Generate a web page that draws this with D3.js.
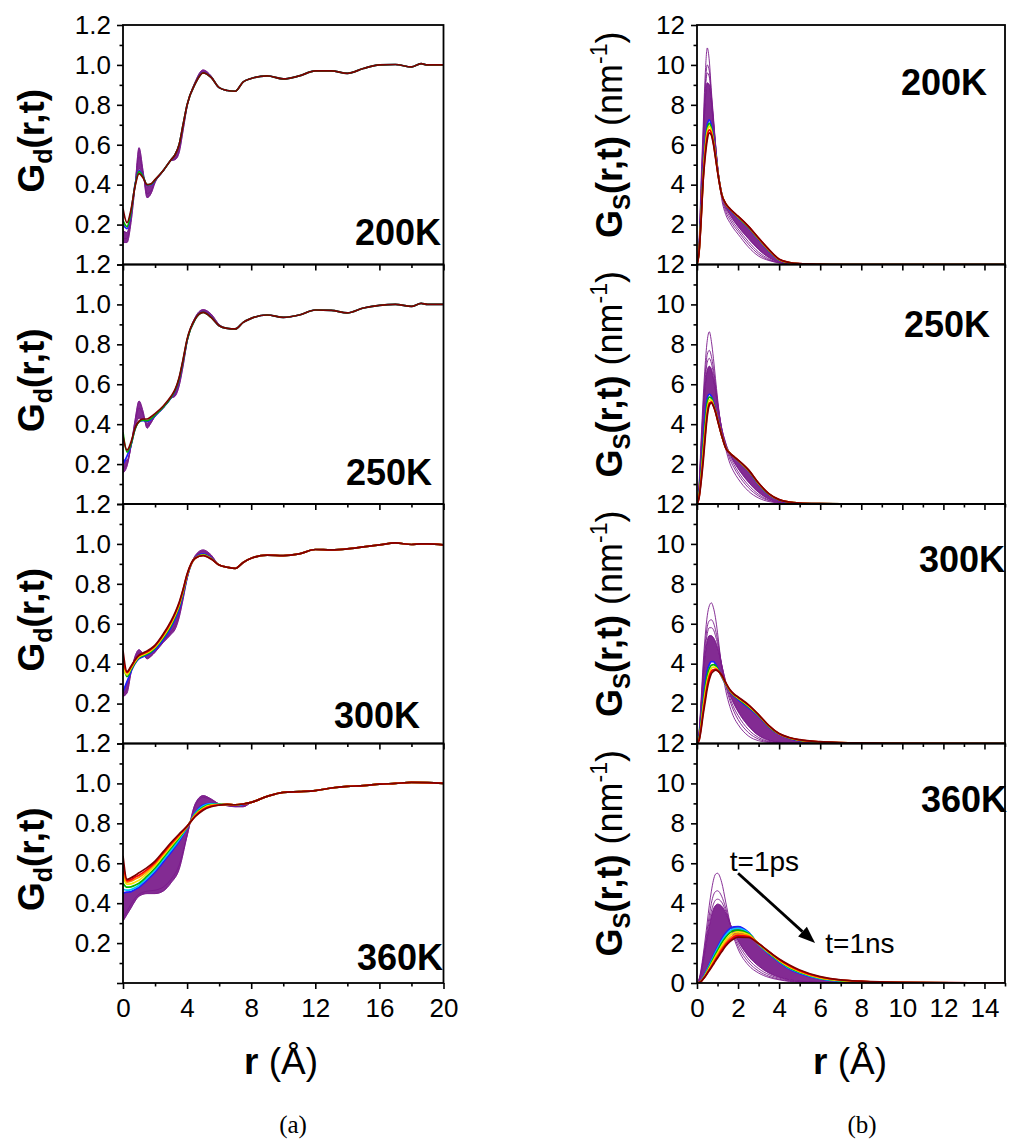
<!DOCTYPE html>
<html>
<head>
<meta charset="utf-8">
<script src="https://cdn.jsdelivr.net/npm/d3@7"></script>
<style>
  html, body { margin: 0; padding: 0; background: #fff; }
  svg { display: block; }
</style>
</head>
<body>
<div id="chart"></div>
<script>
// ---------------------------------------------------------------
// Distinct part Gd(r,t): radial grids (Å)
// ---------------------------------------------------------------
const gdHeadR    = [0, 0.25, 0.5, 0.75, 1.0, 1.25, 1.5, 1.75, 2.0, 2.5, 3.0, 3.25, 3.5, 3.75, 4.0, 4.5, 5.0, 5.5, 6.0];
const gdTailR    = [6.5, 7, 7.5, 8, 9, 10, 11, 12, 13, 14, 15, 16, 17, 18, 18.6, 19, 20];
const gd360HeadR = [0, 0.25, 0.5, 0.75, 1.0, 1.5, 2.0, 2.5, 3.0, 3.5, 4.0, 4.5, 5.0, 5.5, 6.0, 6.5, 7.0, 7.5, 8.0];
const gd360TailR = [9, 10, 11, 12, 13, 14, 15, 16, 17, 18, 19, 20];

// 200 K
const gd200_1ps   = [0.11, 0.11, 0.21, 0.39, 0.585, 0.47, 0.335, 0.355, 0.41, 0.465, 0.52, 0.525, 0.56, 0.67, 0.79, 0.915, 0.975, 0.945, 0.886];
const gd200_e2    = [0.13, 0.13, 0.23, 0.40, 0.54, 0.46, 0.355, 0.37, 0.415, 0.467, 0.52, 0.53, 0.57, 0.68, 0.795, 0.91, 0.97, 0.943, 0.886];
const gd200_edge  = [0.17, 0.16, 0.25, 0.40, 0.48, 0.445, 0.39, 0.395, 0.42, 0.47, 0.525, 0.545, 0.595, 0.70, 0.80, 0.905, 0.962, 0.94, 0.886];
const gd200_blue  = [0.20, 0.18, 0.26, 0.40, 0.47, 0.443, 0.398, 0.40, 0.422, 0.47, 0.525, 0.55, 0.60, 0.70, 0.80, 0.905, 0.961, 0.938, 0.886];
const gd200_green = [0.22, 0.19, 0.265, 0.395, 0.465, 0.44, 0.40, 0.403, 0.424, 0.47, 0.525, 0.55, 0.60, 0.70, 0.80, 0.905, 0.96, 0.937, 0.886];
const gd200_final = [0.28, 0.21, 0.275, 0.39, 0.455, 0.435, 0.40, 0.405, 0.425, 0.47, 0.525, 0.55, 0.60, 0.70, 0.80, 0.905, 0.96, 0.937, 0.886];
const gd200_tail  = [0.872, 0.868, 0.915, 0.932, 0.945, 0.93, 0.945, 0.97, 0.97, 0.958, 0.982, 1.0, 1.002, 0.99, 1.006, 1.0, 1.0];

// 250 K
const gd250_1ps   = [0.155, 0.19, 0.29, 0.42, 0.516, 0.465, 0.38, 0.406, 0.44, 0.48, 0.53, 0.54, 0.59, 0.69, 0.81, 0.935, 0.974, 0.952, 0.90];
const gd250_e2    = [0.18, 0.20, 0.29, 0.41, 0.48, 0.45, 0.39, 0.41, 0.44, 0.482, 0.532, 0.548, 0.60, 0.70, 0.815, 0.932, 0.968, 0.945, 0.896];
const gd250_edge  = [0.22, 0.22, 0.29, 0.385, 0.43, 0.425, 0.405, 0.418, 0.44, 0.48, 0.53, 0.56, 0.62, 0.71, 0.818, 0.928, 0.963, 0.938, 0.894];
const gd250_blue  = [0.20, 0.24, 0.295, 0.375, 0.412, 0.418, 0.414, 0.424, 0.442, 0.482, 0.532, 0.566, 0.625, 0.717, 0.82, 0.925, 0.961, 0.936, 0.893];
const gd250_green = [0.36, 0.26, 0.30, 0.375, 0.412, 0.42, 0.418, 0.428, 0.446, 0.485, 0.535, 0.57, 0.628, 0.72, 0.822, 0.925, 0.96, 0.935, 0.893];
const gd250_final = [0.34, 0.27, 0.31, 0.38, 0.415, 0.426, 0.426, 0.437, 0.453, 0.49, 0.54, 0.574, 0.633, 0.725, 0.826, 0.927, 0.96, 0.935, 0.893];
const gd250_tail  = [0.88, 0.877, 0.91, 0.93, 0.947, 0.935, 0.947, 0.972, 0.97, 0.958, 0.982, 0.995, 1.0, 0.99, 1.005, 1.0, 1.0];

// 300 K
const gd300_1ps    = [0.236, 0.253, 0.354, 0.437, 0.47, 0.45, 0.424, 0.437, 0.457, 0.505, 0.547, 0.572, 0.63, 0.723, 0.824, 0.941, 0.97, 0.945, 0.894];
const gd300_e2     = [0.25, 0.27, 0.36, 0.43, 0.455, 0.445, 0.43, 0.44, 0.46, 0.51, 0.56, 0.59, 0.645, 0.733, 0.829, 0.937, 0.962, 0.938, 0.894];
const gd300_blue   = [0.26, 0.31, 0.36, 0.40, 0.425, 0.435, 0.443, 0.454, 0.47, 0.518, 0.582, 0.622, 0.672, 0.748, 0.834, 0.93, 0.95, 0.93, 0.894];
const gd300_green  = [0.40, 0.335, 0.37, 0.405, 0.43, 0.44, 0.449, 0.46, 0.478, 0.528, 0.592, 0.634, 0.685, 0.758, 0.84, 0.929, 0.946, 0.927, 0.894];
const gd300_yellow = [0.38, 0.345, 0.377, 0.41, 0.434, 0.445, 0.454, 0.466, 0.483, 0.535, 0.60, 0.642, 0.693, 0.764, 0.843, 0.928, 0.944, 0.926, 0.894];
const gd300_red    = [0.42, 0.355, 0.383, 0.416, 0.44, 0.45, 0.459, 0.472, 0.489, 0.542, 0.608, 0.65, 0.70, 0.77, 0.846, 0.928, 0.942, 0.925, 0.894];
const gd300_final  = [0.465, 0.36, 0.387, 0.42, 0.443, 0.454, 0.463, 0.476, 0.493, 0.547, 0.614, 0.656, 0.706, 0.773, 0.849, 0.928, 0.941, 0.924, 0.894];
const gd300_tail   = [0.883, 0.877, 0.907, 0.928, 0.944, 0.941, 0.95, 0.972, 0.97, 0.975, 0.985, 0.995, 1.005, 0.997, 1.0, 1.0, 0.995];

// 360 K
const gd360_1ps    = [0.31, 0.343, 0.376, 0.41, 0.435, 0.448, 0.448, 0.46, 0.502, 0.569, 0.737, 0.897, 0.939, 0.922, 0.897, 0.888, 0.883, 0.883, 0.905];
const gd360_e2     = [0.33, 0.36, 0.395, 0.425, 0.445, 0.46, 0.465, 0.48, 0.52, 0.59, 0.74, 0.887, 0.93, 0.918, 0.897, 0.889, 0.884, 0.885, 0.905];
const gd360_blue   = [0.45, 0.455, 0.458, 0.468, 0.48, 0.515, 0.556, 0.605, 0.655, 0.71, 0.777, 0.853, 0.892, 0.899, 0.896, 0.893, 0.89, 0.895, 0.905];
const gd360_cyan   = [0.47, 0.465, 0.468, 0.477, 0.49, 0.525, 0.566, 0.616, 0.665, 0.718, 0.779, 0.849, 0.887, 0.897, 0.896, 0.894, 0.891, 0.896, 0.905];
const gd360_green  = [0.50, 0.48, 0.482, 0.49, 0.50, 0.535, 0.576, 0.626, 0.676, 0.726, 0.781, 0.845, 0.881, 0.894, 0.895, 0.895, 0.892, 0.897, 0.905];
const gd360_yellow = [0.53, 0.495, 0.497, 0.505, 0.515, 0.549, 0.588, 0.637, 0.686, 0.733, 0.783, 0.841, 0.876, 0.891, 0.894, 0.895, 0.893, 0.897, 0.905];
const gd360_orange = [0.56, 0.505, 0.51, 0.52, 0.53, 0.56, 0.597, 0.645, 0.693, 0.738, 0.784, 0.838, 0.872, 0.888, 0.893, 0.895, 0.893, 0.897, 0.905];
const gd360_red    = [0.60, 0.512, 0.518, 0.53, 0.54, 0.568, 0.603, 0.65, 0.698, 0.742, 0.785, 0.836, 0.869, 0.886, 0.892, 0.895, 0.893, 0.897, 0.905];
const gd360_final  = [0.637, 0.519, 0.527, 0.539, 0.552, 0.578, 0.611, 0.657, 0.704, 0.746, 0.786, 0.833, 0.866, 0.883, 0.891, 0.895, 0.893, 0.897, 0.905];
const gd360_tail   = [0.935, 0.955, 0.959, 0.964, 0.977, 0.985, 0.989, 0.996, 1.0, 1.005, 1.004, 1.0];

// ---------------------------------------------------------------
// Self part Gs(r,t) (nm^-1): common radial grid (Å)
// ---------------------------------------------------------------
const gsR = [0, 0.1, 0.2, 0.3, 0.4, 0.5, 0.6, 0.7, 0.8, 0.9, 1.0, 1.2, 1.4, 1.6, 1.8, 2.0, 2.5, 3.0, 3.5, 4.0, 4.5, 5, 6, 7, 8, 10, 15];

// 200 K
const gs200_1ps    = [0, 1.2, 4.2, 6.9, 9.5, 10.85, 10.2, 8.7, 7.4, 6.1, 5.0, 3.3, 2.5, 2.1, 1.78, 1.52, 0.88, 0.42, 0.2, 0.08, 0.03, 0.01, 0, 0, 0, 0, 0];
const gs200_e2     = [0, 1.0, 3.8, 6.5, 8.9, 10.0, 9.7, 8.5, 7.25, 6.05, 4.95, 3.45, 2.65, 2.25, 1.92, 1.66, 1.02, 0.52, 0.23, 0.09, 0.03, 0.01, 0, 0, 0, 0, 0];
const gs200_e3     = [0, 0.9, 3.6, 6.2, 8.6, 9.6, 9.4, 8.35, 7.15, 6.0, 4.95, 3.55, 2.78, 2.38, 2.05, 1.78, 1.15, 0.62, 0.28, 0.1, 0.04, 0.01, 0, 0, 0, 0, 0];
const gs200_band   = [0, 0.85, 3.4, 5.9, 8.2, 9.1, 9.0, 8.15, 7.05, 5.95, 4.9, 3.6, 2.88, 2.5, 2.18, 1.9, 1.3, 0.75, 0.35, 0.12, 0.04, 0.015, 0, 0, 0, 0, 0];
const gs200_blue   = [0, 0.7, 2.6, 4.6, 6.15, 7.0, 7.25, 6.95, 6.35, 5.55, 4.75, 3.55, 3.0, 2.74, 2.53, 2.34, 1.84, 1.25, 0.67, 0.22, 0.08, 0.03, 0.01, 0, 0, 0, 0];
const gs200_green  = [0, 0.66, 2.45, 4.45, 5.95, 6.82, 7.07, 6.82, 6.26, 5.5, 4.72, 3.54, 3.02, 2.77, 2.56, 2.37, 1.87, 1.28, 0.7, 0.24, 0.09, 0.03, 0.01, 0, 0, 0, 0];
const gs200_yellow = [0, 0.63, 2.35, 4.35, 5.8, 6.65, 6.92, 6.7, 6.18, 5.45, 4.7, 3.53, 3.03, 2.78, 2.58, 2.39, 1.89, 1.3, 0.72, 0.25, 0.09, 0.035, 0.01, 0, 0, 0, 0];
const gs200_red    = [0, 0.61, 2.25, 4.25, 5.6, 6.45, 6.75, 6.58, 6.1, 5.4, 4.68, 3.52, 3.04, 2.79, 2.59, 2.41, 1.91, 1.32, 0.74, 0.26, 0.1, 0.04, 0.01, 0, 0, 0, 0];
const gs200_final  = [0, 0.6, 2.2, 4.2, 5.4, 6.25, 6.6, 6.48, 6.02, 5.35, 4.65, 3.5, 3.05, 2.8, 2.6, 2.42, 1.92, 1.33, 0.76, 0.27, 0.1, 0.04, 0.01, 0, 0, 0, 0];

// 250 K
const gs250_1ps    = [0, 1.0, 3.2, 5.3, 7.0, 8.2, 8.63, 8.15, 7.3, 6.3, 5.3, 3.7, 2.75, 2.04, 1.6, 1.27, 0.65, 0.3, 0.12, 0.05, 0.02, 0.01, 0, 0, 0, 0, 0];
const gs250_e2     = [0, 0.9, 2.9, 4.9, 6.5, 7.5, 7.7, 7.4, 6.8, 6.0, 5.15, 3.75, 2.9, 2.25, 1.82, 1.48, 0.82, 0.4, 0.17, 0.07, 0.03, 0.01, 0, 0, 0, 0, 0];
const gs250_e3     = [0, 0.85, 2.75, 4.7, 6.2, 7.1, 7.3, 7.05, 6.55, 5.85, 5.05, 3.8, 2.98, 2.38, 1.97, 1.62, 0.95, 0.48, 0.2, 0.08, 0.03, 0.01, 0, 0, 0, 0, 0];
const gs250_band   = [0, 0.8, 2.6, 4.4, 5.9, 6.7, 6.9, 6.75, 6.3, 5.7, 5.0, 3.82, 3.05, 2.5, 2.1, 1.78, 1.1, 0.58, 0.25, 0.1, 0.04, 0.015, 0, 0, 0, 0, 0];
const gs250_blue   = [0, 0.5, 1.7, 3.2, 4.5, 5.3, 5.5, 5.4, 5.1, 4.7, 4.3, 3.45, 2.85, 2.55, 2.35, 2.17, 1.65, 0.97, 0.46, 0.19, 0.08, 0.04, 0.015, 0.005, 0, 0, 0];
const gs250_green  = [0, 0.45, 1.5, 2.9, 4.1, 5.05, 5.35, 5.3, 5.02, 4.67, 4.27, 3.45, 2.83, 2.55, 2.36, 2.18, 1.68, 1.0, 0.48, 0.2, 0.09, 0.045, 0.017, 0.006, 0, 0, 0];
const gs250_yellow = [0, 0.38, 1.32, 2.55, 3.75, 4.75, 5.2, 5.2, 4.96, 4.64, 4.24, 3.45, 2.82, 2.55, 2.37, 2.19, 1.7, 1.02, 0.5, 0.21, 0.095, 0.048, 0.018, 0.007, 0, 0, 0];
const gs250_red    = [0, 0.33, 1.2, 2.3, 3.5, 4.55, 5.05, 5.12, 4.92, 4.62, 4.22, 3.45, 2.81, 2.55, 2.37, 2.2, 1.71, 1.04, 0.51, 0.22, 0.1, 0.05, 0.02, 0.008, 0, 0, 0];
const gs250_final  = [0, 0.3, 1.1, 2.1, 3.3, 4.4, 4.95, 5.07, 4.9, 4.6, 4.2, 3.45, 2.8, 2.55, 2.37, 2.2, 1.72, 1.05, 0.52, 0.22, 0.1, 0.05, 0.02, 0.01, 0, 0, 0];

// 300 K
const gs300_1ps    = [0, 0.6, 2.2, 4.0, 5.4, 6.4, 6.9, 7.05, 6.8, 6.3, 5.55, 3.85, 2.65, 1.85, 1.3, 0.95, 0.38, 0.14, 0.05, 0.02, 0.01, 0, 0, 0, 0, 0, 0];
const gs300_e2     = [0, 0.55, 2.0, 3.7, 5.0, 5.85, 6.15, 6.2, 6.05, 5.7, 5.2, 3.95, 2.9, 2.15, 1.6, 1.2, 0.55, 0.22, 0.08, 0.03, 0.01, 0, 0, 0, 0, 0, 0];
const gs300_e3     = [0, 0.5, 1.9, 3.5, 4.7, 5.5, 5.8, 5.8, 5.7, 5.4, 5.0, 3.95, 3.0, 2.3, 1.78, 1.4, 0.7, 0.3, 0.11, 0.04, 0.015, 0, 0, 0, 0, 0, 0];
const gs300_band   = [0, 0.48, 1.8, 3.3, 4.45, 5.15, 5.4, 5.4, 5.3, 5.1, 4.8, 3.95, 3.1, 2.45, 1.98, 1.6, 0.88, 0.4, 0.16, 0.06, 0.02, 0.01, 0, 0, 0, 0, 0];
const gs300_blue   = [0, 0.3, 1.2, 2.25, 3.1, 3.65, 3.95, 4.1, 4.1, 3.98, 3.8, 3.35, 2.95, 2.62, 2.38, 2.2, 1.8, 1.36, 0.82, 0.45, 0.25, 0.14, 0.06, 0.025, 0.01, 0, 0];
const gs300_green  = [0, 0.25, 1.05, 2.0, 2.8, 3.4, 3.75, 3.92, 3.95, 3.9, 3.75, 3.38, 2.98, 2.64, 2.41, 2.25, 1.85, 1.4, 0.85, 0.47, 0.27, 0.16, 0.075, 0.035, 0.015, 0, 0];
const gs300_yellow = [0, 0.2, 0.9, 1.8, 2.55, 3.15, 3.55, 3.78, 3.83, 3.82, 3.7, 3.4, 3.0, 2.66, 2.44, 2.28, 1.89, 1.42, 0.87, 0.48, 0.28, 0.17, 0.08, 0.04, 0.02, 0.005, 0];
const gs300_red    = [0, 0.17, 0.8, 1.6, 2.3, 2.95, 3.38, 3.62, 3.7, 3.73, 3.67, 3.42, 3.03, 2.68, 2.46, 2.31, 1.92, 1.44, 0.89, 0.49, 0.29, 0.18, 0.085, 0.045, 0.025, 0.008, 0];
const gs300_final  = [0, 0.15, 0.7, 1.45, 2.1, 2.75, 3.2, 3.5, 3.62, 3.68, 3.65, 3.43, 3.05, 2.7, 2.48, 2.33, 1.95, 1.45, 0.9, 0.5, 0.3, 0.19, 0.09, 0.05, 0.03, 0.01, 0];

// 360 K
const gs360_1ps    = [0, 0.2, 0.7, 1.4, 2.2, 3.05, 3.9, 4.6, 5.15, 5.45, 5.5, 5.05, 4.05, 3.05, 2.25, 1.7, 0.9, 0.5, 0.28, 0.16, 0.08, 0.04, 0.01, 0, 0, 0, 0];
const gs360_e2     = [0, 0.18, 0.6, 1.25, 1.95, 2.7, 3.4, 4.0, 4.4, 4.58, 4.62, 4.35, 3.75, 3.0, 2.35, 1.85, 1.05, 0.6, 0.34, 0.19, 0.1, 0.05, 0.015, 0, 0, 0, 0];
const gs360_e3     = [0, 0.16, 0.55, 1.15, 1.8, 2.5, 3.1, 3.6, 3.95, 4.15, 4.2, 4.05, 3.6, 3.0, 2.45, 2.0, 1.2, 0.72, 0.42, 0.24, 0.13, 0.07, 0.02, 0.005, 0, 0, 0];
const gs360_band   = [0, 0.15, 0.5, 1.05, 1.65, 2.3, 2.85, 3.35, 3.7, 3.88, 3.95, 3.85, 3.5, 3.0, 2.52, 2.12, 1.35, 0.85, 0.5, 0.29, 0.16, 0.09, 0.03, 0.01, 0, 0, 0];
const gs360_blue   = [0, 0.03, 0.12, 0.28, 0.48, 0.7, 0.92, 1.15, 1.38, 1.6, 1.8, 2.2, 2.5, 2.72, 2.81, 2.82, 2.55, 1.93, 1.45, 1.05, 0.7, 0.48, 0.2, 0.09, 0.04, 0.01, 0];
const gs360_cyan   = [0, 0.03, 0.11, 0.26, 0.45, 0.66, 0.87, 1.09, 1.31, 1.52, 1.72, 2.1, 2.4, 2.62, 2.72, 2.74, 2.52, 1.94, 1.48, 1.08, 0.74, 0.51, 0.22, 0.1, 0.05, 0.015, 0];
const gs360_green  = [0, 0.025, 0.1, 0.24, 0.41, 0.61, 0.81, 1.02, 1.23, 1.43, 1.62, 1.99, 2.29, 2.51, 2.63, 2.65, 2.48, 1.95, 1.5, 1.1, 0.77, 0.54, 0.24, 0.11, 0.06, 0.018, 0];
const gs360_yellow = [0, 0.022, 0.09, 0.22, 0.38, 0.57, 0.75, 0.94, 1.13, 1.32, 1.5, 1.86, 2.16, 2.39, 2.52, 2.56, 2.43, 1.96, 1.53, 1.13, 0.8, 0.57, 0.26, 0.125, 0.07, 0.022, 0];
const gs360_orange = [0, 0.021, 0.085, 0.21, 0.36, 0.53, 0.7, 0.87, 1.05, 1.22, 1.39, 1.74, 2.03, 2.26, 2.41, 2.46, 2.38, 1.97, 1.55, 1.16, 0.84, 0.6, 0.28, 0.14, 0.08, 0.025, 0];
const gs360_red    = [0, 0.02, 0.082, 0.2, 0.34, 0.5, 0.66, 0.82, 0.99, 1.16, 1.32, 1.65, 1.94, 2.16, 2.31, 2.38, 2.33, 1.97, 1.57, 1.18, 0.87, 0.62, 0.3, 0.15, 0.085, 0.028, 0];
const gs360_final  = [0, 0.02, 0.08, 0.2, 0.33, 0.48, 0.63, 0.78, 0.94, 1.1, 1.25, 1.56, 1.85, 2.07, 2.22, 2.3, 2.28, 1.98, 1.58, 1.2, 0.9, 0.65, 0.32, 0.16, 0.09, 0.03, 0];

// ---------------------------------------------------------------
// Labels and ticks
// ---------------------------------------------------------------
const temps      = ['200K', '250K', '300K', '360K'];
const gdXTicks   = [0, 4, 8, 12, 16, 20];
const gdXMinor   = [2, 6, 10, 14, 18];
const gdYTicks   = [0, 0.2, 0.4, 0.6, 0.8, 1.0, 1.2];
const gdYMinor   = [0.1, 0.3, 0.5, 0.7, 0.9, 1.1];
const gsXTicks   = [0, 2, 4, 6, 8, 10, 12, 14];
const gsXMinor   = [1, 3, 5, 7, 9, 11, 13, 15];
const gsYTicks   = [0, 2, 4, 6, 8, 10, 12];
const gsYMinor   = [1, 3, 5, 7, 9, 11];
const arrowFrom  = [2.0, 5.5];   // (r, Gs) in the 360 K panel
const arrowTo    = [5.75, 2.0];
const labelEarly = [1.6, 5.6];
const labelLate  = [6.25, 1.5];

// ---------------------------------------------------------------
// Colours of the time sequence
// ---------------------------------------------------------------
const PURPLE = '#7a1b8b', BLUE = '#1e1eff', CYAN = '#00c2ff', GREEN = '#00b400',
      YELLOW = '#f2e400', ORANGE = '#ff8a00', RED = '#ff0000', DARKRED = '#7d0000';

const gdPanels = [
  { headR: gdHeadR, tailR: gdTailR, tail: gd200_tail, band: [gd200_1ps, gd200_edge],
    lines: [[gd200_1ps, PURPLE], [gd200_e2, PURPLE], [gd200_edge, PURPLE], [gd200_blue, BLUE], [gd200_green, GREEN], [gd200_final, DARKRED]] },
  { headR: gdHeadR, tailR: gdTailR, tail: gd250_tail, band: [gd250_1ps, gd250_edge],
    lines: [[gd250_1ps, PURPLE], [gd250_e2, PURPLE], [gd250_edge, PURPLE], [gd250_blue, BLUE], [gd250_green, GREEN], [gd250_final, DARKRED]] },
  { headR: gdHeadR, tailR: gdTailR, tail: gd300_tail, band: [gd300_1ps, gd300_blue],
    lines: [[gd300_1ps, PURPLE], [gd300_e2, PURPLE], [gd300_blue, BLUE], [gd300_green, GREEN], [gd300_yellow, YELLOW], [gd300_red, RED], [gd300_final, DARKRED]] },
  { headR: gd360HeadR, tailR: gd360TailR, tail: gd360_tail, band: [gd360_1ps, gd360_blue],
    lines: [[gd360_1ps, PURPLE], [gd360_e2, PURPLE], [gd360_blue, BLUE], [gd360_cyan, CYAN], [gd360_green, GREEN], [gd360_yellow, YELLOW], [gd360_orange, ORANGE], [gd360_red, RED], [gd360_final, DARKRED]] }
];

const gsPanels = [
  { band: [gs200_band, gs200_blue],
    lines: [[gs200_1ps, PURPLE], [gs200_e2, PURPLE], [gs200_e3, PURPLE], [gs200_band, PURPLE], [gs200_blue, BLUE], [gs200_green, GREEN], [gs200_yellow, YELLOW], [gs200_red, RED], [gs200_final, DARKRED]] },
  { band: [gs250_band, gs250_blue],
    lines: [[gs250_1ps, PURPLE], [gs250_e2, PURPLE], [gs250_e3, PURPLE], [gs250_band, PURPLE], [gs250_blue, BLUE], [gs250_green, GREEN], [gs250_yellow, YELLOW], [gs250_red, RED], [gs250_final, DARKRED]] },
  { band: [gs300_band, gs300_blue],
    lines: [[gs300_1ps, PURPLE], [gs300_e2, PURPLE], [gs300_e3, PURPLE], [gs300_band, PURPLE], [gs300_blue, BLUE], [gs300_green, GREEN], [gs300_yellow, YELLOW], [gs300_red, RED], [gs300_final, DARKRED]] },
  { band: [gs360_band, gs360_blue],
    lines: [[gs360_1ps, PURPLE], [gs360_e2, PURPLE], [gs360_e3, PURPLE], [gs360_band, PURPLE], [gs360_blue, BLUE], [gs360_cyan, CYAN], [gs360_green, GREEN], [gs360_yellow, YELLOW], [gs360_orange, ORANGE], [gs360_red, RED], [gs360_final, DARKRED]] }
];

// ---------------------------------------------------------------
// Layout
// ---------------------------------------------------------------
const W = 1011, H = 1143;
const TOP = 25, PH = 239.5;
const FONT = 'Arial, "Liberation Sans", Helvetica, sans-serif';

const columns = [
  { id: 'gd', x0: 123, x1: 443.5, xDom: [0, 20], yDom: [0, 1.2],
    xMaj: gdXTicks, xMin: gdXMinor, yMaj: gdYTicks, yMin: gdYMinor,
    yFmt: (v, i) => v === 0 ? '' : v.toFixed(1),
    tempPos: [[441, 220], [432, 220.5], [420, 224], [443, 226.5]] },
  { id: 'gs', x0: 697, x1: 1005, xDom: [0, 15], yDom: [0, 12],
    xMaj: gsXTicks, xMin: gsXMinor, yMaj: gsYTicks, yMin: gsYMinor,
    yFmt: (v, i) => (v === 0 && i < 3) ? '' : String(v),
    tempPos: [[987, 70], [990, 72.5], [1005, 68], [1007, 68.5]] }
];

const svg = d3.select('#chart').append('svg')
  .attr('width', W).attr('height', H)
  .attr('viewBox', `0 0 ${W} ${H}`)
  .style('font-family', FONT);

svg.append('rect').attr('width', W).attr('height', H).attr('fill', '#fff');

const defs = svg.append('defs');

function styleAxis(g, fontSize) {
  g.select('.domain').remove();
  g.selectAll('.tick line').attr('stroke', '#000').attr('stroke-width', 1.6);
  g.selectAll('.tick text').attr('fill', '#000').style('font-size', fontSize + 'px').style('font-family', FONT);
}

columns.forEach((col, ci) => {
  const panels = ci === 0 ? gdPanels : gsPanels;
  const x = d3.scaleLinear().domain(col.xDom).range([col.x0, col.x1]);

  panels.forEach((p, i) => {
    const top = TOP + i * PH;
    const bottom = top + PH;
    const y = d3.scaleLinear().domain(col.yDom).range([bottom, top]);
    const g = svg.append('g');

    const clipId = `clip-${col.id}-${i}`;
    defs.append('clipPath').attr('id', clipId)
      .append('rect').attr('x', col.x0).attr('y', top).attr('width', col.x1 - col.x0).attr('height', PH);

    const plot = g.append('g').attr('clip-path', `url(#${clipId})`);

    // radial grid for this panel
    let R, full;
    if (ci === 0) {
      R = p.headR.concat(p.tailR);
      full = arr => arr.concat(p.tail);
    } else {
      R = gsR;
      full = arr => arr;
    }

    // dense purple band of intermediate times
    const bandLo = p.band[0], bandHi = p.band[1];
    const hi = full(bandHi);
    const area = d3.area()
      .x((d, k) => x(R[k]))
      .y0(d => y(d))
      .y1((d, k) => y(hi[k]))
      .curve(d3.curveMonotoneX);
    plot.append('path')
      .datum(full(bandLo))
      .attr('d', area)
      .attr('fill', PURPLE)
      .attr('fill-opacity', 0.93)
      .attr('stroke', PURPLE)
      .attr('stroke-width', 0.6);

    const line = d3.line()
      .x((d, k) => x(R[k]))
      .y(d => y(d))
      .curve(d3.curveMonotoneX);

    p.lines.forEach(([vals, color]) => {
      const isPurple = color === PURPLE;
      plot.append('path')
        .datum(full(vals))
        .attr('d', line)
        .attr('fill', 'none')
        .attr('stroke', color)
        .attr('stroke-width', isPurple ? 0.9 : 1.7)
        .attr('stroke-linejoin', 'round');
    });

    // axes
    const isBottom = i === panels.length - 1;
    const yAxis = d3.axisLeft(y).tickValues(col.yMaj).tickSize(6).tickPadding(6)
      .tickFormat(v => col.yFmt(v, i));
    const yMinor = d3.axisLeft(y).tickValues(col.yMin).tickSize(3.5).tickFormat('');
    const xAxis = d3.axisBottom(x).tickValues(col.xMaj).tickSize(6).tickPadding(10)
      .tickFormat(v => isBottom ? String(v) : '');
    const xMinor = d3.axisBottom(x).tickValues(col.xMin).tickSize(3.5).tickFormat('');

    g.append('g').attr('transform', `translate(${col.x0},0)`).call(yAxis).call(a => styleAxis(a, 26));
    g.append('g').attr('transform', `translate(${col.x0},0)`).call(yMinor).call(a => styleAxis(a, 26));
    g.append('g').attr('transform', `translate(0,${bottom})`).call(xAxis).call(a => styleAxis(a, 26));
    g.append('g').attr('transform', `translate(0,${bottom})`).call(xMinor).call(a => styleAxis(a, 26));

    // frame
    g.append('rect')
      .attr('x', col.x0).attr('y', top)
      .attr('width', col.x1 - col.x0).attr('height', PH)
      .attr('fill', 'none').attr('stroke', '#000').attr('stroke-width', 1.8);

    // temperature label
    const tp = col.tempPos[i];
    g.append('text')
      .attr('x', tp[0]).attr('y', top + tp[1])
      .attr('text-anchor', 'end')
      .attr('font-weight', 'bold')
      .attr('font-size', 36)
      .attr('fill', '#000')
      .text(temps[i]);

    // y-axis title
    const cy = top + PH / 2;
    if (ci === 0) {
      const t = svg.append('text')
        .attr('transform', `translate(44,${cy - 4}) rotate(-90)`)
        .attr('text-anchor', 'middle')
        .attr('font-weight', 'bold')
        .attr('font-size', 37)
        .attr('fill', '#000');
      t.append('tspan').text('G');
      t.append('tspan').attr('font-size', 25).attr('dy', 8).text('d');
      t.append('tspan').attr('dy', -8).text('(r,t)');
    } else {
      const t = svg.append('text')
        .attr('transform', `translate(622,${cy - 10}) rotate(-90)`)
        .attr('text-anchor', 'middle')
        .attr('font-size', 36)
        .attr('fill', '#000');
      t.append('tspan').attr('font-weight', 'bold').text('G');
      t.append('tspan').attr('font-weight', 'bold').attr('font-size', 24).attr('dy', 8).text('S');
      t.append('tspan').attr('font-weight', 'bold').attr('dy', -8).text('(r,t)');
      t.append('tspan').text('\u00A0(nm');
      t.append('tspan').attr('font-size', 23).attr('dy', -15).text('-1');
      t.append('tspan').attr('dy', 15).text(')');
    }

    // time arrow in the 360 K self-part panel
    if (ci === 1 && isBottom) {
      const x1 = x(arrowFrom[0]), y1 = y(arrowFrom[1]);
      const x2 = x(arrowTo[0]), y2 = y(arrowTo[1]);
      const ang = Math.atan2(y2 - y1, x2 - x1);
      const headLen = 17, headW = 6.5;
      const bx = x2 - headLen * Math.cos(ang), by = y2 - headLen * Math.sin(ang);
      g.append('line')
        .attr('x1', x1).attr('y1', y1).attr('x2', bx).attr('y2', by)
        .attr('stroke', '#000').attr('stroke-width', 2.8);
      const nx = -Math.sin(ang), ny = Math.cos(ang);
      g.append('path')
        .attr('d', `M${x2},${y2}L${bx + nx * headW},${by + ny * headW}L${bx - nx * headW},${by - ny * headW}Z`)
        .attr('fill', '#000');
      g.append('text').attr('x', x(labelEarly[0])).attr('y', y(labelEarly[1]))
        .attr('font-size', 28).attr('fill', '#000').text('t=1ps');
      g.append('text').attr('x', x(labelLate[0])).attr('y', y(labelLate[1]))
        .attr('font-size', 28).attr('fill', '#000').text('t=1ns');
    }
  });

  // x-axis title
  const cx = ci === 0 ? 281 : 850;
  const xt = svg.append('text')
    .attr('x', cx).attr('y', 1074)
    .attr('text-anchor', 'middle')
    .attr('font-size', 37)
    .attr('fill', '#000');
  xt.append('tspan').attr('font-weight', 'bold').text('r');
  xt.append('tspan').text(' (\u00C5)');

  // sub-figure caption
  svg.append('text')
    .attr('x', ci === 0 ? 293 : 862).attr('y', 1133)
    .attr('text-anchor', 'middle')
    .attr('font-size', 25)
    .style('font-family', '"Liberation Serif", "DejaVu Serif", serif')
    .attr('fill', '#000')
    .text(ci === 0 ? '(a)' : '(b)');
});
</script>
</body>
</html>
